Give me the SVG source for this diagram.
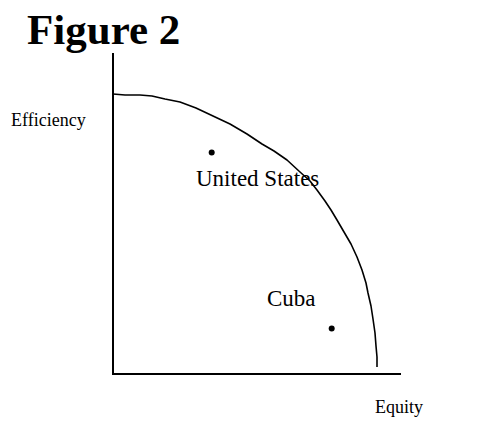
<svg xmlns="http://www.w3.org/2000/svg" width="483" height="425" viewBox="0 0 483 425">
<style>
text{font-family:"Liberation Serif","Times New Roman",serif;fill:#000}
.ax{stroke:#000;stroke-width:2;fill:none}
.cv{stroke:#000;stroke-width:1.6;fill:none;stroke-linejoin:round}
</style>
<rect width="483" height="425" fill="#fff"/>
<text x="27" y="44" font-size="43" font-weight="bold">Figure 2</text>
<g id="axes" class="ax">
<path d="M113,53 V374 H401"/>
</g>
<text x="11" y="126" font-size="18">Efficiency</text>
<text x="375" y="413" font-size="18">Equity</text>
<g id="connectors">
<path class="cv" d="M113,94 L125,95 L140,95 L152,96 L165,99 L180,102 L196,108 L213,116 L230,124 L247,134 L262,144 L274,151 L287,160 L300,172 L310,181 L317,190 L325,201 L331,210 L337,220 L344,232 L351,244 L357,257 L362,270 L366,283 L368,293 L371,306 L373,319 L375,333 L376,346 L377,357 L377,367"/>
</g>
<g id="us">
<circle cx="211.7" cy="152.5" r="3"/>
<text x="196" y="186" font-size="23">United States</text>
</g>
<g id="cuba">
<circle cx="331.7" cy="328.5" r="3"/>
<text x="267" y="306" font-size="23">Cuba</text>
</g>
</svg>
